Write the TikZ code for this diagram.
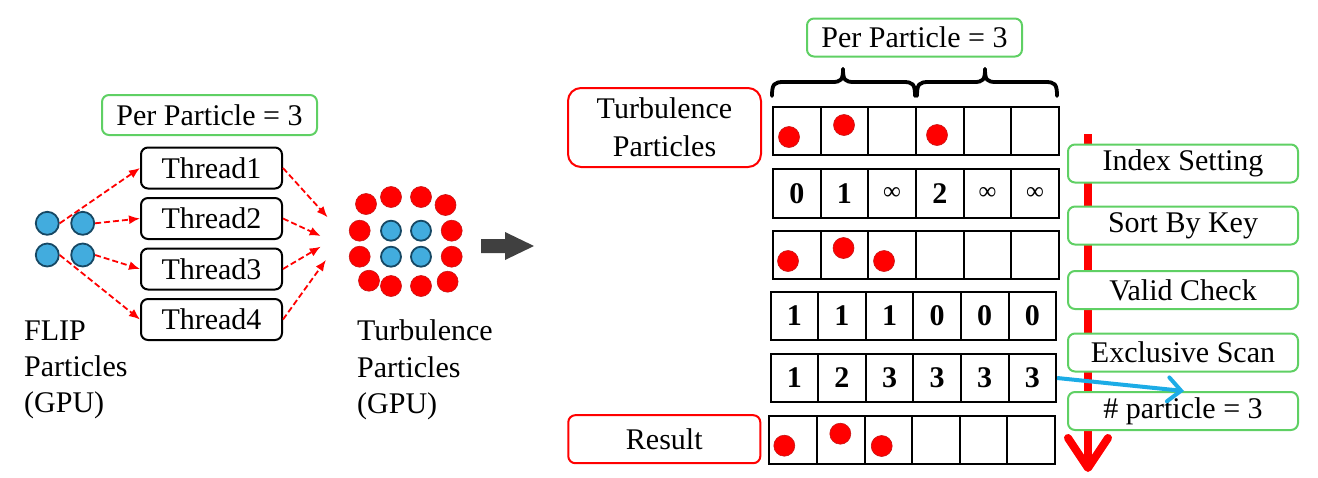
\documentclass[tikz,border=0pt]{standalone}
\usepackage{fontspec}
\setmainfont{Liberation Serif}
\usetikzlibrary{arrows.meta}
\definecolor{gbox}{RGB}{95,208,100}
\definecolor{pblue}{RGB}{66,172,222}
\definecolor{pblueb}{RGB}{22,72,100}
\definecolor{cyanarrow}{RGB}{28,172,230}
\definecolor{darkarrow}{RGB}{64,64,64}
\definecolor{rborder}{RGB}{200,20,20}
\newcommand{\infsym}{{\normalfont\fontsize{25}{25}\selectfont ∞}}
\begin{document}
\begin{tikzpicture}[x=1pt,y=-1pt,
  txt/.style={font=\fontsize{30}{34}\selectfont, inner sep=0pt},
  greenbox/.style={draw=gbox, line width=2pt, rounded corners=7pt, fill=white, font=\fontsize{30}{34}\selectfont, inner sep=0pt},
  redbox/.style={draw=red, line width=2pt, fill=white, font=\fontsize{30}{38}\selectfont, inner sep=0pt, align=center},
  threadbox/.style={draw=black, line width=2pt, rounded corners=7pt, minimum width=141pt, minimum height=41pt, inner sep=0pt, font=\fontsize{30}{34}\selectfont},
  bpart/.style={circle, draw=pblueb, line width=1.8pt, fill=pblue, minimum size=23pt, inner sep=0pt},
  cpart/.style={circle, draw=pblueb, line width=1.8pt, fill=pblue, minimum size=20pt, inner sep=0pt},
  rpart/.style={circle, draw=rborder, line width=0.6pt, fill=red, minimum size=21pt, inner sep=0pt},
  flow/.style={red, dash pattern=on 6pt off 3pt, line width=1.8pt, -{Latex[length=11pt,width=9pt]}},
  cell/.style={draw=black, line width=2pt, minimum width=47.6pt, minimum height=48pt, inner sep=0pt, anchor=north west, font=\fontsize{30}{34}\selectfont\bfseries},
  bracel/.style={draw=black, line width=3.8pt, line cap=round},
]
\useasboundingbox (0,0) rectangle (1318,477);

% ---------------- left part ----------------
\node[greenbox, minimum width=215pt, minimum height=40pt] (perL) at (209.5,115) {Per Particle = 3};

\node[threadbox] (t1) at (211.5,168) {Thread1};
\node[threadbox] (t2) at (211.5,218.5) {Thread2};
\node[threadbox] (t3) at (211.5,269) {Thread3};
\node[threadbox] (t4) at (211.5,319.5) {Thread4};

\node[bpart] (b1) at (47.3,223.3) {};
\node[bpart] (b2) at (82.7,223.3) {};
\node[bpart] (b3) at (47.3,255) {};
\node[bpart] (b4) at (82.7,255) {};

\draw[flow] (b1.east) -- (t1.west);
\draw[flow] (b2.east) -- (t2.west);
\draw[flow] (b4.east) -- (t3.west);
\draw[flow] (b3.east) -- (t4.west);

\coordinate (e1) at (327.6,217.3);
\coordinate (e2) at (320.7,236);
\coordinate (e3) at (320.7,246.7);
\coordinate (e4) at (325.9,260);
\draw[flow] (t1.east) -- (e1);
\draw[flow] (t2.east) -- (e2);
\draw[flow] (t3.east) -- (e3);
\draw[flow] (t4.east) -- (e4);

% turbulence cluster
\node[rpart] (tp1) at (366,204) {};
\node[rpart] (tp2) at (391,197) {};
\node[rpart] (tp3) at (421,197) {};
\node[rpart] (tp4) at (445.5,205) {};
\node[rpart] (tp5) at (359.7,230.7) {};
\node[rpart] (tp6) at (451.7,230.7) {};
\node[rpart] (tp7) at (359.7,256.7) {};
\node[rpart] (tp8) at (451.7,256.7) {};
\node[rpart] (tp9) at (369,280.7) {};
\node[rpart] (tp10) at (391,286) {};
\node[rpart] (tp11) at (421,286) {};
\node[rpart] (tp12) at (447.6,281.7) {};
\node[cpart] (fp1) at (391,230.7) {};
\node[cpart] (fp2) at (421,230.7) {};
\node[cpart] (fp3) at (391,256.7) {};
\node[cpart] (fp4) at (421,256.7) {};

\node[txt, anchor=base west] (flipA) at (24,340) {FLIP};
\node[txt, anchor=base west] (flipB) at (24,376) {Particles};
\node[txt, anchor=base west] (flipC) at (24,412) {(GPU)};
\node[txt, anchor=base west] (turbA) at (357,340) {Turbulence};
\node[txt, anchor=base west] (turbB) at (357,377) {Particles};
\node[txt, anchor=base west] (turbC) at (357,413) {(GPU)};

% big arrow
\fill[darkarrow] (481,239) -- (505,239) -- (505,232) -- (534,246) -- (505,260) -- (505,253) -- (481,253) -- cycle;

% ---------------- right part ----------------
\node[greenbox, minimum width=215pt, minimum height=38pt] (perR) at (914.5,37.5) {Per Particle = 3};

\draw[bracel] (772,96) .. controls (772,84) and (774,82) .. (784,82) -- (832,82) .. controls (841,82) and (843,80) .. (843,69);
\draw[bracel] (843,69) .. controls (843,80) and (845,82) .. (854,82) -- (903,82) .. controls (913,82) and (915,84) .. (915,96);
\draw[bracel] (917,96) .. controls (917,84) and (919,82) .. (929,82) -- (974,82) .. controls (983,82) and (985,80) .. (985,69);
\draw[bracel] (985,69) .. controls (985,80) and (987,82) .. (996,82) -- (1045,82) .. controls (1055,82) and (1057,84) .. (1057,96);

\node[redbox, rounded corners=13pt, minimum width=193pt, minimum height=79pt] (turbbox) at (664.5,127.5) {Turbulence\\Particles};
\node[redbox, rounded corners=7pt, minimum width=192pt, minimum height=48pt] (result) at (664.3,439.2) {Result};

% grid rows
\foreach \c in {1,...,6} \node[cell, minimum height=48pt] (g1-\c) at ({772+(\c-1)*47.67},106) {};
\foreach \c/\t in {1/0,2/1,3/\infsym,4/2,5/\infsym,6/\infsym} \node[cell, minimum height=49pt] (g2-\c) at ({772+(\c-1)*47.67},168) {\t};
\foreach \c in {1,...,6} \node[cell, minimum height=48pt] (g3-\c) at ({772+(\c-1)*47.67},229.5) {};
\foreach \c/\t in {1/1,2/1,3/1,4/0,5/0,6/0} \node[cell, minimum height=48pt] (g4-\c) at ({769.5+(\c-1)*47.6},291) {\t};
\foreach \c/\t in {1/1,2/2,3/3,4/3,5/3,6/3} \node[cell, minimum height=48pt] (g5-\c) at ({769.5+(\c-1)*47.6},353) {\t};
\foreach \c in {1,...,6} \node[cell, minimum height=48pt] (g6-\c) at ({768.3+(\c-1)*47.6},415.2) {};

% dots
\node[rpart] (d1) at (789,137) {};
\node[rpart] (d2) at (844,125) {};
\node[rpart] (d3) at (937,135) {};
\node[rpart] (d4) at (788,261) {};
\node[rpart] (d5) at (843.5,248) {};
\node[rpart] (d6) at (884,261) {};
\node[rpart] (d7) at (784.3,445.7) {};
\node[rpart] (d8) at (840.3,433.7) {};
\node[rpart] (d9) at (881.7,446) {};

% red vertical arrow
\coordinate (ra) at (1088,134);
\coordinate (rb) at (1088,468);
\coordinate (rl) at (1068,438);
\coordinate (rr) at (1108,438);
\draw[red, line width=8pt] (ra) -- (rb);
\draw[red, line width=8pt, line cap=round, line join=round] (rl) -- (rb) -- (rr);

% step boxes
\node[greenbox, minimum width=230pt, minimum height=38pt] (s1) at (1183,163.5) {Index Setting};
\node[greenbox, minimum width=230pt, minimum height=38pt] (s2) at (1183,225.5) {Sort By Key};
\node[greenbox, minimum width=230pt, minimum height=38pt] (s3) at (1183,290) {Valid Check};
\node[greenbox, minimum width=230pt, minimum height=38pt] (s4) at (1183,352.5) {Exclusive Scan};
\node[greenbox, minimum width=230pt, minimum height=38pt] (s5) at (1183,411) {\# particle = 3};

% blue arrow
\coordinate (bt) at (1184,391);
\draw[cyanarrow, line width=4pt, -{Straight Barb[length=13pt,width=24pt,line cap=round]}] (g5-6.east) -- (bt);
\end{tikzpicture}
\end{document}
